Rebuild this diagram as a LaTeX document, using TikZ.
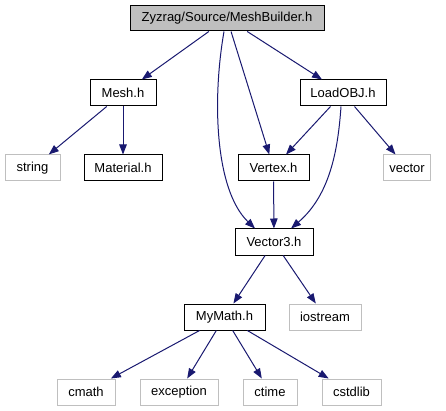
\documentclass[tikz,border=0pt]{standalone}
\usepackage{fontspec}
\setmainfont{Liberation Sans}
\usetikzlibrary{arrows.meta}
\definecolor{edgeblue}{HTML}{191970}
\definecolor{boxgray}{HTML}{BFBFBF}
\begin{document}
\begin{tikzpicture}[x=1pt,y=-1pt,
  box/.style={draw=black,line width=1pt,minimum height=26pt,inner sep=0pt,
    font=\fontsize{13}{15}\selectfont,anchor=center},
  sysbox/.style={box,draw=boxgray},
  topbox/.style={box,fill=boxgray},
  dep/.style={draw=edgeblue,line width=1pt,-{Triangle[length=10pt,width=7.5pt]}}]
\useasboundingbox (0,0) rectangle (446,411);
\node[topbox,minimum width=194pt,minimum height=25pt] (mb) at (227,18.5) {Zyzrag/Source/MeshBuilder.h};
\node[box,minimum width=66pt] (mesh) at (123,93) {Mesh.h};
\node[box,minimum width=86pt] (lo) at (343,93) {LoadOBJ.h};
\node[sysbox,minimum width=55pt] (str) at (32.5,168) {string};
\node[box,minimum width=78pt] (mat) at (123,168) {Material.h};
\node[box,minimum width=71pt] (vx) at (273.5,168) {Vertex.h};
\node[sysbox,minimum width=47pt] (vec) at (407,168) {vector};
\node[box,minimum width=78pt] (v3) at (274,242) {Vector3.h};
\node[box,minimum width=81pt] (mm) at (224.5,317) {MyMath.h};
\node[sysbox,minimum width=72pt] (ios) at (325,317) {iostream};
\node[sysbox,minimum width=58pt] (cm) at (86,392) {cmath};
\node[sysbox,minimum width=78pt] (exc) at (179,392) {exception};
\node[sysbox,minimum width=54pt] (ct) at (270,392) {ctime};
\node[sysbox,minimum width=59pt] (cs) at (351.5,392) {cstdlib};
\draw[dep] (mb) -- (mesh);
\draw[dep] (mb) -- (lo);
\draw[dep] (mb) -- (vx);
\draw[dep] ([xshift=-3pt]mb.south) .. controls (212,100) and (215,190) .. ([xshift=-19pt]v3.north);
\draw[dep] (mesh) -- (str);
\draw[dep] (mesh) -- (mat);
\draw[dep] (lo) -- (vx);
\draw[dep] ([xshift=-2pt]lo.south) .. controls (338,150) and (330,195) .. ([xshift=17pt]v3.north);
\draw[dep] (lo) -- (vec);
\draw[dep] (vx) -- (v3);
\draw[dep] (v3) -- (mm);
\draw[dep] (v3) -- (ios);
\draw[dep] (mm) -- (cm);
\draw[dep] (mm) -- (exc);
\draw[dep] (mm) -- (ct);
\draw[dep] (mm) -- (cs);
\end{tikzpicture}
\end{document}
